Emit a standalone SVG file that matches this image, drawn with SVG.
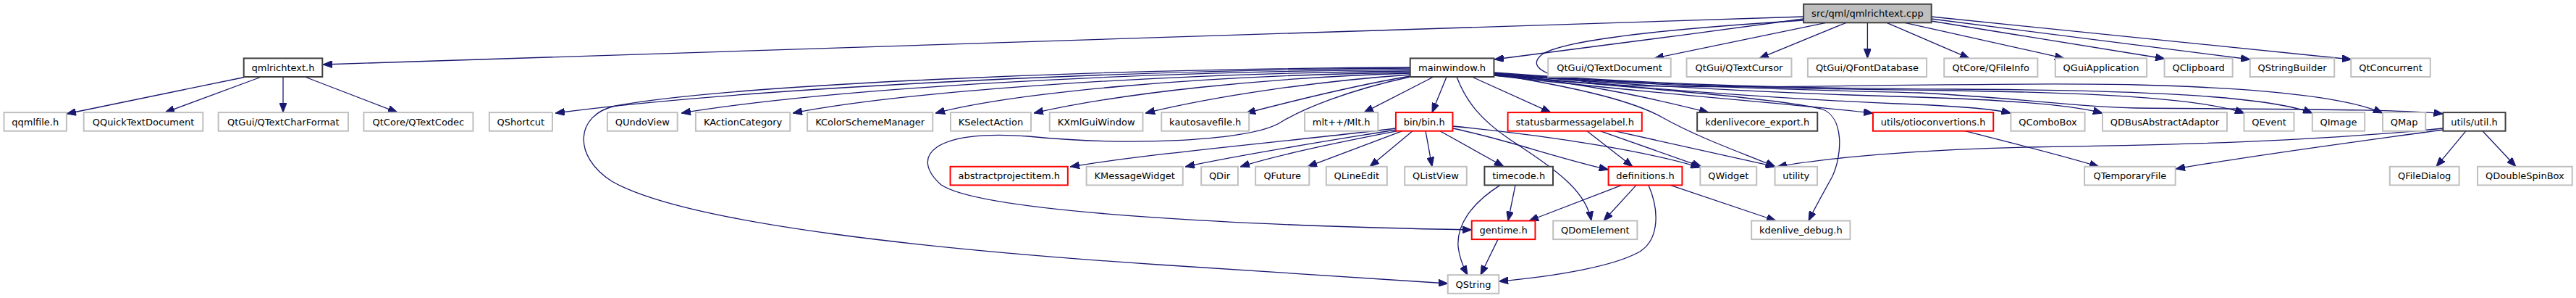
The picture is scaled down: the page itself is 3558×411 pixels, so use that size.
<svg xmlns="http://www.w3.org/2000/svg" width="3558" height="411" viewBox="0 0 3558 411">
<style>
rect.g{fill:#fff;stroke:#bfbfbf;stroke-width:2}
rect.b{fill:#fff;stroke:#404040;stroke-width:2}
rect.r{fill:#fff;stroke:#ff0000;stroke-width:2}
rect.root{fill:#bfbfbf;stroke:#404040;stroke-width:2}
text{font-family:"DejaVu Sans","Noto Sans",sans-serif;font-size:13px;text-anchor:middle;fill:#000}
.e{fill:none;stroke:#191970;stroke-width:1.3;marker-end:url(#a)}
</style>
<defs>
<marker id="a" viewBox="0 0 13 10" refX="13" refY="5" markerWidth="13" markerHeight="10" markerUnits="userSpaceOnUse" orient="auto">
<path d="M0,0 L13,5 L0,10 z" fill="#191970" stroke="#191970" stroke-width="1"/>
</marker>
</defs>
<rect x="0" y="0" width="3558" height="411" fill="#fff"/>
<g id="edges">
<path class="e" d="M2491,23 L446,89"/>
<path class="e" d="M2491,26 C2350,45 2200,65 2064,82"/>
<path class="e" d="M2522,31.3 L2285,80.4"/>
<path class="e" d="M2550,31.3 L2430,80.4"/>
<path class="e" d="M2579.4,31.3 L2579.4,80.4"/>
<path class="e" d="M2606,31.3 L2720,80.4"/>
<path class="e" d="M2631,31.3 L2851,80.4"/>
<path class="e" d="M2667.5,29 L2990,81"/>
<path class="e" d="M2667.5,26 L3108,82"/>
<path class="e" d="M2667.5,23 L3248,82"/>
<path class="e" d="M2491,28 C2300,40 2160,55 2130,75 C2105,95 2140,112 2250,118 C2450,124 2750,112 2950,117 C3150,122 3250,138 3291,156"/>
<path class="e" d="M340,106 L92,157"/>
<path class="e" d="M361,106 L228,155.1"/>
<path class="e" d="M391,106 L391,155.1"/>
<path class="e" d="M421,106 L549,155.1"/>
<path class="e" d="M1947.75,94 C1500,97 1000,125 767,156"/>
<path class="e" d="M1947.75,96 C1550,99 1150,122 941,156"/>
<path class="e" d="M1947.75,98 C1600,101 1250,126 1095,156"/>
<path class="e" d="M1947.75,100 C1650,104 1400,128 1292,156"/>
<path class="e" d="M1947.75,101 C1750,107 1550,128 1428,156"/>
<path class="e" d="M1947.75,103 C1820,112 1680,132 1582,156"/>
<path class="e" d="M1947.75,105 C1870,118 1790,138 1721,156"/>
<path class="e" d="M1980,106 L1884,155.1"/>
<path class="e" d="M1998,106 L1978,155.1"/>
<path class="e" d="M1947.75,93 C1500,95 1000,118 850,146 C795,158 790,215 845,250 C950,310 1300,345 1600,365 C1800,378 1930,387 1999.75,391"/>
<path class="e" d="M1947.75,106 C1860,125 1800,150 1770,168 C1730,195 1560,202 1420,188 C1290,178 1255,215 1300,255 C1360,295 1750,312 2032.75,317"/>
<path class="e" d="M2012,106 C2025,140 2045,165 2085,192 C2150,235 2190,262 2198,304.5"/>
<path class="e" d="M2033,106 L2142,155.1"/>
<path class="e" d="M2063.75,101 C2200,116 2300,140 2360,155.1"/>
<path class="e" d="M2063.75,102 C2160,118 2250,136 2296,162 C2350,192 2410,212 2452,230"/>
<path class="e" d="M2063.75,104 C2250,120 2450,135 2515,150 C2548,160 2545,215 2530,245 C2515,272 2505,290 2498,304.5"/>
<path class="e" d="M2063.75,104 C2250,126 2450,141 2587,156"/>
<path class="e" d="M2063.75,103 C2300,125 2500,138 2620,143 C2700,146 2752,150 2777.4,156"/>
<path class="e" d="M2063.75,102 C2300,122 2500,130 2650,134 C2780,138 2865,146 2904,156"/>
<path class="e" d="M2063.75,101 C2300,119 2500,123 2700,125 C2900,128 3040,136 3100,156"/>
<path class="e" d="M2063.75,100 C2300,118 2500,122 2700,123 C2950,124 3130,132 3194,156"/>
<path class="e" d="M2063.75,102 C2300,120 2500,124 2650,128 C2790,135 2860,147 2950,149 C3200,151 3320,151 3374.45,157"/>
<path class="e" d="M1928,177 C1800,193 1600,210 1478,230"/>
<path class="e" d="M1928,179 C1830,195 1720,212 1637,230"/>
<path class="e" d="M1930,180.7 C1850,196 1760,215 1713,230"/>
<path class="e" d="M1937,180.7 L1806,229.8"/>
<path class="e" d="M1951,180.7 L1892,229.8"/>
<path class="e" d="M1969,180.7 L1978,229.8"/>
<path class="e" d="M1989,180.7 L2077,229.8"/>
<path class="e" d="M2006.5,177 C2080,192 2150,218 2221.6,234"/>
<path class="e" d="M2006.5,174 C2150,188 2280,210 2348,231"/>
<path class="e" d="M2192,180.7 L2255,229.8"/>
<path class="e" d="M2210,180.7 L2350,229.8"/>
<path class="e" d="M2230,180.7 L2452,229.8"/>
<path class="e" d="M2093,255.4 L2083,304.5"/>
<path class="e" d="M2072,255.4 C2030,282 2012,312 2014,340 C2016,358 2022,370 2027,379.2"/>
<path class="e" d="M2240,255.4 L2112,304.5"/>
<path class="e" d="M2260,255.4 L2215,304.5"/>
<path class="e" d="M2277,255.4 C2292,290 2292,330 2265,347 C2230,367 2150,381 2070.25,388"/>
<path class="e" d="M2307,255.4 L2453,304.5"/>
<path class="e" d="M2069,330.1 L2045,379.2"/>
<path class="e" d="M2714,180.7 C2770,195 2840,212 2899,229.8"/>
<path class="e" d="M3374.45,179 C3250,196 3100,216 3005,233"/>
<path class="e" d="M3374.45,177 C3200,195 3000,200 2800,203 C2650,206 2520,218 2455,229.8"/>
<path class="e" d="M3406,180.7 L3365,229.8"/>
<path class="e" d="M3429,180.7 L3475,229.8"/>
</g>
<g id="n_root"><rect class="root" x="2491.1" y="5.7" width="176.6" height="25.6"/><text x="2579.4" y="23.1">src/qml/qmlrichtext.cpp</text></g>
<g id="n_qmlrichtext_h"><rect class="b" x="336.7" y="80.4" width="108.6" height="25.6"/><text x="391" y="97.8">qmlrichtext.h</text></g>
<g id="n_mainwindow_h"><rect class="b" x="1947.75" y="80.4" width="115.7" height="25.6"/><text x="2005.6" y="97.8">mainwindow.h</text></g>
<g id="n_QTextDocument"><rect class="g" x="2138.25" y="80.4" width="169.5" height="25.6"/><text x="2223" y="97.8">QtGui/QTextDocument</text></g>
<g id="n_QTextCursor"><rect class="g" x="2329.55" y="80.4" width="144.9" height="25.6"/><text x="2402" y="97.8">QtGui/QTextCursor</text></g>
<g id="n_QFontDatabase"><rect class="g" x="2496.9" y="80.4" width="164.2" height="25.6"/><text x="2579" y="97.8">QtGui/QFontDatabase</text></g>
<g id="n_QFileInfo"><rect class="g" x="2685.25" y="80.4" width="129.1" height="25.6"/><text x="2749.8" y="97.8">QtCore/QFileInfo</text></g>
<g id="n_QGuiApplication"><rect class="g" x="2838.85" y="80.4" width="126.3" height="25.6"/><text x="2902" y="97.8">QGuiApplication</text></g>
<g id="n_QClipboard"><rect class="g" x="2989.55" y="80.4" width="94.1" height="25.6"/><text x="3036.6" y="97.8">QClipboard</text></g>
<g id="n_QStringBuilder"><rect class="g" x="3107.75" y="80.4" width="116.5" height="25.6"/><text x="3166" y="97.8">QStringBuilder</text></g>
<g id="n_QtConcurrent"><rect class="g" x="3247.25" y="80.4" width="109.5" height="25.6"/><text x="3302" y="97.8">QtConcurrent</text></g>
<g id="n_qqmlfile_h"><rect class="g" x="5.5" y="155.1" width="86.4" height="25.6"/><text x="48.7" y="172.5">qqmlfile.h</text></g>
<g id="n_QQuickTextDocument"><rect class="g" x="115.7" y="155.1" width="164.6" height="25.6"/><text x="198" y="172.5">QQuickTextDocument</text></g>
<g id="n_QTextCharFormat"><rect class="g" x="301.65" y="155.1" width="179.3" height="25.6"/><text x="391.3" y="172.5">QtGui/QTextCharFormat</text></g>
<g id="n_QTextCodec"><rect class="g" x="502.4" y="155.1" width="151" height="25.6"/><text x="577.9" y="172.5">QtCore/QTextCodec</text></g>
<g id="n_QShortcut"><rect class="g" x="675.85" y="155.1" width="87.1" height="25.6"/><text x="719.4" y="172.5">QShortcut</text></g>
<g id="n_QUndoView"><rect class="g" x="838.9" y="155.1" width="96.8" height="25.6"/><text x="887.3" y="172.5">QUndoView</text></g>
<g id="n_KActionCategory"><rect class="g" x="960.9" y="155.1" width="130.4" height="25.6"/><text x="1026.1" y="172.5">KActionCategory</text></g>
<g id="n_KColorSchemeManager"><rect class="g" x="1115.1" y="155.1" width="173.2" height="25.6"/><text x="1201.7" y="172.5">KColorSchemeManager</text></g>
<g id="n_KSelectAction"><rect class="g" x="1312.95" y="155.1" width="111.1" height="25.6"/><text x="1368.5" y="172.5">KSelectAction</text></g>
<g id="n_KXmlGuiWindow"><rect class="g" x="1449.75" y="155.1" width="128.7" height="25.6"/><text x="1514.1" y="172.5">KXmlGuiWindow</text></g>
<g id="n_kautosavefile_h"><rect class="g" x="1604.25" y="155.1" width="120.9" height="25.6"/><text x="1664.7" y="172.5">kautosavefile.h</text></g>
<g id="n_Mlt_h"><rect class="g" x="1802.05" y="155.1" width="101.3" height="25.6"/><text x="1852.7" y="172.5">mlt++/Mlt.h</text></g>
<g id="n_bin_h"><rect class="r" x="1927.95" y="155.1" width="78.5" height="25.6"/><text x="1967.2" y="172.5">bin/bin.h</text></g>
<g id="n_statusbarmessagelabel_h"><rect class="r" x="2082.6" y="155.1" width="185.2" height="25.6"/><text x="2175.2" y="172.5">statusbarmessagelabel.h</text></g>
<g id="n_kdenlivecore_export_h"><rect class="b" x="2344.15" y="155.1" width="166.1" height="25.6"/><text x="2427.2" y="172.5">kdenlivecore_export.h</text></g>
<g id="n_otioconvertions_h"><rect class="r" x="2586.95" y="155.1" width="166.3" height="25.6"/><text x="2670.1" y="172.5">utils/otioconvertions.h</text></g>
<g id="n_QComboBox"><rect class="g" x="2777.4" y="155.1" width="102.2" height="25.6"/><text x="2828.5" y="172.5">QComboBox</text></g>
<g id="n_QDBusAbstractAdaptor"><rect class="g" x="2904" y="155.1" width="172" height="25.6"/><text x="2990" y="172.5">QDBusAbstractAdaptor</text></g>
<g id="n_QEvent"><rect class="g" x="3099.5" y="155.1" width="69" height="25.6"/><text x="3134" y="172.5">QEvent</text></g>
<g id="n_QImage"><rect class="g" x="3193.8" y="155.1" width="72.4" height="25.6"/><text x="3230" y="172.5">QImage</text></g>
<g id="n_QMap"><rect class="g" x="3291" y="155.1" width="59.2" height="25.6"/><text x="3320.6" y="172.5">QMap</text></g>
<g id="n_util_h"><rect class="b" x="3374.45" y="155.1" width="86.1" height="25.6"/><text x="3417.5" y="172.5">utils/util.h</text></g>
<g id="n_abstractprojectitem_h"><rect class="r" x="1312.55" y="229.8" width="162.3" height="25.6"/><text x="1393.7" y="247.2">abstractprojectitem.h</text></g>
<g id="n_KMessageWidget"><rect class="g" x="1500.65" y="229.8" width="133.1" height="25.6"/><text x="1567.2" y="247.2">KMessageWidget</text></g>
<g id="n_QDir"><rect class="g" x="1659.15" y="229.8" width="50.7" height="25.6"/><text x="1684.5" y="247.2">QDir</text></g>
<g id="n_QFuture"><rect class="g" x="1734.15" y="229.8" width="74.1" height="25.6"/><text x="1771.2" y="247.2">QFuture</text></g>
<g id="n_QLineEdit"><rect class="g" x="1831.8" y="229.8" width="84" height="25.6"/><text x="1873.8" y="247.2">QLineEdit</text></g>
<g id="n_QListView"><rect class="g" x="1940.2" y="229.8" width="85.6" height="25.6"/><text x="1983" y="247.2">QListView</text></g>
<g id="n_timecode_h"><rect class="b" x="2050.4" y="229.8" width="94.6" height="25.6"/><text x="2097.7" y="247.2">timecode.h</text></g>
<g id="n_definitions_h"><rect class="r" x="2221.6" y="229.8" width="101.8" height="25.6"/><text x="2272.5" y="247.2">definitions.h</text></g>
<g id="n_QWidget"><rect class="g" x="2348.4" y="229.8" width="77.8" height="25.6"/><text x="2387.3" y="247.2">QWidget</text></g>
<g id="n_utility"><rect class="g" x="2451.55" y="229.8" width="58.5" height="25.6"/><text x="2480.8" y="247.2">utility</text></g>
<g id="n_QTemporaryFile"><rect class="g" x="2879.1" y="229.8" width="125.6" height="25.6"/><text x="2941.9" y="247.2">QTemporaryFile</text></g>
<g id="n_QFileDialog"><rect class="g" x="3300.8" y="229.8" width="95.8" height="25.6"/><text x="3348.7" y="247.2">QFileDialog</text></g>
<g id="n_QDoubleSpinBox"><rect class="g" x="3422.05" y="229.8" width="130.7" height="25.6"/><text x="3487.4" y="247.2">QDoubleSpinBox</text></g>
<g id="n_gentime_h"><rect class="r" x="2032.75" y="304.5" width="87.7" height="25.6"/><text x="2076.6" y="321.9">gentime.h</text></g>
<g id="n_QDomElement"><rect class="g" x="2145.2" y="304.5" width="116.2" height="25.6"/><text x="2203.3" y="321.9">QDomElement</text></g>
<g id="n_kdenlive_debug_h"><rect class="g" x="2419.15" y="304.5" width="136.3" height="25.6"/><text x="2487.3" y="321.9">kdenlive_debug.h</text></g>
<g id="n_QString"><rect class="g" x="1999.75" y="379.2" width="70.5" height="25.6"/><text x="2035" y="396.6">QString</text></g>
</svg>
